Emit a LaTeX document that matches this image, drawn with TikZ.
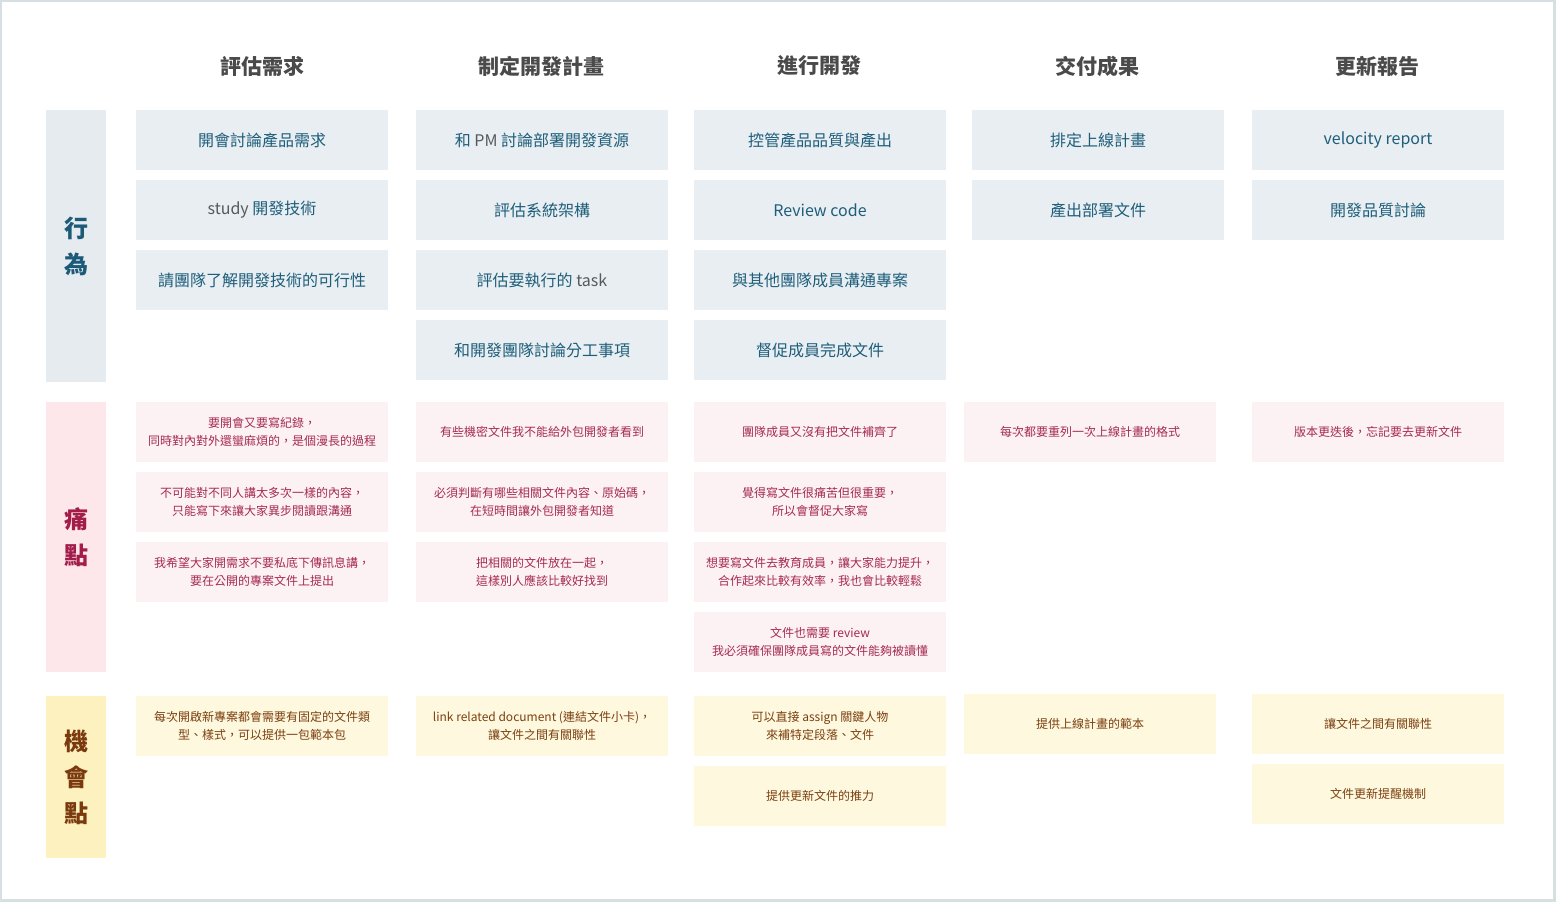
\documentclass[tikz,border=0pt]{standalone}
\usepackage{fontspec}
\setmainfont{Noto Sans CJK TC}
\definecolor{bordercol}{HTML}{D6DFE2}
\definecolor{hdrcol}{HTML}{4A4A4A}
\definecolor{actfill}{HTML}{E8EEF1}
\definecolor{acttext}{HTML}{1E5E7B}
\definecolor{actgray}{HTML}{555A5E}
\definecolor{actlblfill}{HTML}{E5EBEE}
\definecolor{actlbltext}{HTML}{1B5A78}
\definecolor{painfill}{HTML}{FDF2F3}
\definecolor{paintext}{HTML}{A52A55}
\definecolor{painlblfill}{HTML}{FDE7EB}
\definecolor{painlbltext}{HTML}{A21D4A}
\definecolor{oppfill}{HTML}{FEF8DE}
\definecolor{opptext}{HTML}{7B3F10}
\definecolor{opplblfill}{HTML}{FEF1C0}
\definecolor{opplbltext}{HTML}{7A3A0E}
\tikzset{
  hdr/.style={text=hdrcol, inner sep=0pt, font=\bfseries\fontsize{10.5}{12}\selectfont},
  cell/.style={minimum width=126pt, minimum height=30pt, inner sep=0pt, align=center},
  actbox/.style={cell, fill=actfill, text=acttext, font=\fontsize{8}{10}\selectfont},
  painbox/.style={cell, fill=painfill, text=paintext, font=\fontsize{6}{9}\selectfont},
  oppbox/.style={cell, fill=oppfill, text=opptext, font=\fontsize{6}{9}\selectfont},
  rowlbl/.style={minimum width=30pt, inner sep=0pt, align=center, font=\bfseries\fontsize{12}{18}\selectfont},
}
\begin{document}
\begin{tikzpicture}[x=0.5pt, y=-0.5pt]
\useasboundingbox (0,0) rectangle (1556,902);
\fill[bordercol] (0,0) rectangle (1556,902);
\fill[white] (2,2) rectangle (1553,899);

% headers
\node[hdr] (h1) at (262,66) {評估需求};
\node[hdr] (h2) at (541,66) {制定開發計畫};
\node[hdr] (h3) at (819,66) {進行開發};
\node[hdr] (h4) at (1097,66) {交付成果};
\node[hdr] (h5) at (1377,66) {更新報告};

% row labels
\node[rowlbl, fill=actlblfill, text=actlbltext, minimum height=136pt] (l1) at (76,246) {行\\為};
\node[rowlbl, fill=painlblfill, text=painlbltext, minimum height=135pt] (l2) at (76,537) {痛\\點};
\node[rowlbl, fill=opplblfill, text=opplbltext, minimum height=81pt] (l3) at (76,777) {機\\會\\點};

% actions
\node[actbox] (a11) at (262,140) {開會討論產品需求};
\node[actbox] (a12) at (262,210) {\textcolor{actgray}{study} 開發技術};
\node[actbox] (a13) at (262,280) {請團隊了解開發技術的可行性};

\node[actbox] (a21) at (542,140) {和 \textcolor{actgray}{PM} 討論部署開發資源};
\node[actbox] (a22) at (542,210) {評估系統架構};
\node[actbox] (a23) at (542,280) {評估要執行的 \textcolor{actgray}{task}};
\node[actbox] (a24) at (542,350) {和開發團隊討論分工事項};

\node[actbox] (a31) at (820,140) {控管產品品質與產出};
\node[actbox] (a32) at (820,210) {Review code};
\node[actbox] (a33) at (820,280) {與其他團隊成員溝通專案};
\node[actbox] (a34) at (820,350) {督促成員完成文件};

\node[actbox] (a41) at (1098,140) {排定上線計畫};
\node[actbox] (a42) at (1098,210) {產出部署文件};

\node[actbox] (a51) at (1378,140) {velocity report};
\node[actbox] (a52) at (1378,210) {開發品質討論};

% pain points
\node[painbox] (p11) at (262,432) {要開會又要寫紀錄，\\同時對內對外還蠻麻煩的，是個漫長的過程};
\node[painbox] (p12) at (262,502) {不可能對不同人講太多次一樣的內容，\\只能寫下來讓大家異步閱讀跟溝通};
\node[painbox] (p13) at (262,572) {我希望大家開需求不要私底下傳訊息講，\\要在公開的專案文件上提出};

\node[painbox] (p21) at (542,432) {有些機密文件我不能給外包開發者看到};
\node[painbox] (p22) at (542,502) {必須判斷有哪些相關文件內容、原始碼，\\在短時間讓外包開發者知道};
\node[painbox] (p23) at (542,572) {把相關的文件放在一起，\\這樣別人應該比較好找到};

\node[painbox] (p31) at (820,432) {團隊成員又沒有把文件補齊了};
\node[painbox] (p32) at (820,502) {覺得寫文件很痛苦但很重要，\\所以會督促大家寫};
\node[painbox] (p33) at (820,572) {想要寫文件去教育成員，讓大家能力提升，\\合作起來比較有效率，我也會比較輕鬆};
\node[painbox] (p34) at (820,642) {文件也需要 review\\我必須確保團隊成員寫的文件能夠被讀懂};

\node[painbox] (p41) at (1090,432) {每次都要重列一次上線計畫的格式};
\node[painbox] (p51) at (1378,432) {版本更迭後，忘記要去更新文件};

% opportunities
\node[oppbox] (o11) at (262,726) {每次開啟新專案都會需要有固定的文件類\\型、樣式，可以提供一包範本包};
\node[oppbox] (o21) at (542,726) {link related document (連結文件小卡)，\\讓文件之間有關聯性};
\node[oppbox] (o31) at (820,726) {可以直接 assign 關鍵人物\\來補特定段落、文件};
\node[oppbox] (o32) at (820,796) {提供更新文件的推力};
\node[oppbox] (o41) at (1090,724) {提供上線計畫的範本};
\node[oppbox] (o51) at (1378,724) {讓文件之間有關聯性};
\node[oppbox] (o52) at (1378,794) {文件更新提醒機制};
\end{tikzpicture}
\end{document}
